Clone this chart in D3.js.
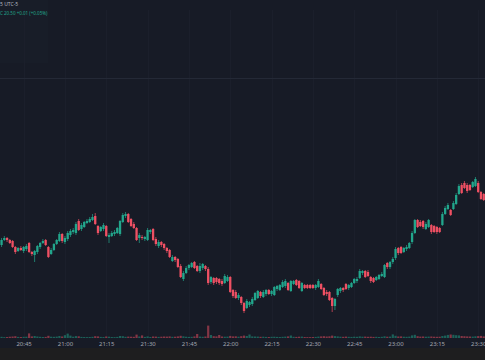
<!DOCTYPE html>
<html><head><meta charset="utf-8">
<script src="https://cdn.jsdelivr.net/npm/d3@7"></script>
<style>html,body{margin:0;padding:0;background:#171b26;overflow:hidden}</style>
</head><body><svg id="c" width="485" height="360"></svg>
<script>
// ---- data (1-minute candles starting 20:36) ----
const startTime = [20, 36];
const opens = [
20.04,20.05,20.10,20.12,20.10,20.09,20.03,19.99,20.02,19.99,
20.01,20.07,19.98,19.95,19.98,20.03,20.07,20.10,20.03,19.96,
20.00,20.06,20.09,20.16,20.08,20.11,20.15,20.18,20.17,20.29,
20.21,20.23,20.27,20.28,20.30,20.34,20.24,20.19,20.21,20.24,
20.13,20.14,20.16,20.17,20.16,20.28,20.34,20.36,20.31,20.26,
20.22,20.12,20.13,20.11,20.10,20.18,20.21,20.11,20.04,20.08,
20.06,20.02,20.00,19.89,19.93,19.91,19.84,19.71,19.77,19.82,
19.83,19.88,19.84,19.79,19.82,19.84,19.81,19.68,19.72,19.72,
19.71,19.69,19.67,19.69,19.73,19.60,19.58,19.52,19.53,19.47,
19.42,19.45,19.46,19.50,19.52,19.58,19.53,19.56,19.60,19.56,
19.55,19.61,19.60,19.63,19.64,19.67,19.59,19.66,19.70,19.69,
19.59,19.65,19.65,19.65,19.65,19.62,19.63,19.66,19.62,19.58,
19.58,19.52,19.44,19.55,19.59,19.62,19.66,19.62,19.63,19.67,
19.69,19.72,19.77,19.79,19.78,19.73,19.72,19.70,19.71,19.74,
19.73,19.87,19.83,19.88,19.92,20.02,20.03,19.98,20.01,20.02,
20.08,20.17,20.30,20.28,20.29,20.21,20.23,20.25,20.24,20.23,
20.22,20.25,20.36,20.41,20.40,20.41,20.46,20.56,20.65,20.67,
20.65,20.65,20.63,20.64,20.67,20.58,20.56];
const highs = [
20.11,20.12,20.14,20.13,20.11,20.10,20.04,20.03,20.04,20.04,
20.06,20.08,19.99,20.00,20.05,20.08,20.11,20.11,20.04,20.02,
20.07,20.11,20.18,20.17,20.14,20.19,20.21,20.22,20.28,20.31,
20.27,20.29,20.31,20.33,20.36,20.37,20.25,20.24,20.27,20.25,
20.17,20.19,20.20,20.23,20.30,20.37,20.38,20.37,20.32,20.28,
20.23,20.17,20.15,20.14,20.22,20.21,20.22,20.13,20.10,20.09,
20.07,20.03,20.01,19.95,19.94,19.92,19.86,19.79,19.84,19.86,
19.88,19.89,19.85,19.87,19.87,19.85,19.83,19.74,19.73,19.73,
19.72,19.71,19.76,19.75,19.74,19.61,19.60,19.57,19.54,19.48,
19.51,19.49,19.53,19.58,19.60,19.59,19.60,19.61,19.61,19.60,
19.64,19.65,19.66,19.70,19.71,19.68,19.70,19.70,19.71,19.70,
19.68,19.66,19.66,19.66,19.66,19.66,19.71,19.67,19.63,19.60,
19.59,19.53,19.52,19.62,19.63,19.63,19.67,19.66,19.68,19.72,
19.73,19.81,19.80,19.80,19.80,19.74,19.73,19.74,19.76,19.78,
19.86,19.88,19.89,19.93,20.03,20.03,20.04,20.03,20.05,20.08,
20.19,20.31,20.31,20.30,20.30,20.28,20.31,20.26,20.25,20.24,
20.23,20.38,20.44,20.47,20.41,20.49,20.57,20.66,20.67,20.69,
20.67,20.66,20.69,20.73,20.69,20.59,20.57];
const lows = [
20.02,20.03,20.09,20.08,20.06,20.02,19.96,19.98,19.99,19.97,
19.99,19.97,19.94,19.88,19.96,20.01,20.06,20.04,19.92,19.95,
19.99,20.05,20.08,20.07,20.06,20.09,20.13,20.16,20.15,20.19,
20.19,20.22,20.26,20.27,20.29,20.25,20.15,20.18,20.19,20.13,
20.07,20.13,20.14,20.16,20.14,20.27,20.32,20.27,20.23,20.21,
20.09,20.07,20.10,20.09,20.09,20.16,20.09,20.04,20.02,20.03,
20.00,19.97,19.92,19.88,19.88,19.82,19.72,19.69,19.76,19.80,
19.82,19.81,19.78,19.77,19.80,19.79,19.65,19.66,19.65,19.66,
19.65,19.64,19.66,19.68,19.57,19.52,19.51,19.50,19.45,19.37,
19.41,19.43,19.44,19.49,19.51,19.52,19.52,19.54,19.55,19.54,
19.54,19.59,19.59,19.62,19.62,19.59,19.58,19.65,19.64,19.61,
19.58,19.61,19.61,19.61,19.61,19.60,19.62,19.60,19.54,19.54,
19.49,19.38,19.40,19.53,19.57,19.58,19.60,19.60,19.62,19.66,
19.67,19.71,19.75,19.72,19.73,19.67,19.67,19.69,19.70,19.73,
19.72,19.81,19.81,19.86,19.90,19.95,19.96,19.97,19.99,20.01,
20.06,20.16,20.22,20.23,20.21,20.20,20.22,20.16,20.17,20.16,
20.17,20.24,20.35,20.40,20.34,20.40,20.45,20.55,20.56,20.61,
20.57,20.59,20.62,20.63,20.57,20.50,20.49];
const closes = [
20.09,20.10,20.12,20.10,20.07,20.03,19.98,20.02,20.00,20.03,
20.04,19.98,19.96,19.99,20.04,20.07,20.09,20.05,19.93,20.00,
20.06,20.10,20.16,20.09,20.12,20.17,20.19,20.20,20.26,20.20,
20.25,20.28,20.29,20.31,20.33,20.26,20.17,20.23,20.25,20.14,
20.15,20.17,20.18,20.22,20.29,20.35,20.36,20.28,20.24,20.22,
20.10,20.15,20.12,20.13,20.20,20.20,20.10,20.06,20.08,20.05,
20.02,19.99,19.93,19.93,19.90,19.83,19.73,19.77,19.82,19.85,
19.87,19.82,19.79,19.84,19.86,19.81,19.67,19.73,19.67,19.68,
19.67,19.66,19.74,19.73,19.58,19.54,19.52,19.55,19.47,19.39,
19.49,19.48,19.51,19.57,19.59,19.54,19.58,19.60,19.56,19.59,
19.63,19.64,19.65,19.68,19.69,19.60,19.69,19.69,19.65,19.62,
19.67,19.62,19.62,19.62,19.62,19.65,19.69,19.61,19.55,19.56,
19.50,19.44,19.51,19.61,19.62,19.60,19.61,19.65,19.67,19.71,
19.71,19.79,19.79,19.73,19.74,19.69,19.68,19.73,19.75,19.76,
19.85,19.83,19.88,19.91,20.01,19.97,19.97,20.02,20.03,20.07,
20.17,20.30,20.23,20.24,20.23,20.26,20.30,20.18,20.18,20.18,
20.18,20.36,20.42,20.45,20.35,20.47,20.55,20.64,20.57,20.62,
20.59,20.60,20.68,20.71,20.58,20.51,20.50];
const volumes = [
1400,1200,900,1000,1300,1500,1800,1100,1000,1200,
1300,4600,1600,2000,1500,1200,1000,1100,2200,1300,
1200,1400,2000,1500,2800,4400,2400,1300,1900,1700,
1100,1000,900,1000,1200,1800,1600,1100,1000,1500,
1300,1000,900,1100,2000,1800,1200,1400,1300,1200,
3400,1500,2600,1100,1600,1000,1500,1400,1100,1300,
1500,1400,1600,1200,1300,1600,2200,1700,1300,1100,
1200,1600,4000,1400,1200,1500,12400,3000,1800,1600,
3000,1500,1300,1400,2100,1600,1700,1300,1800,2400,
2000,3500,1600,1500,1400,1200,1300,1100,1000,1200,
1300,1100,1000,1200,1400,1600,2500,1200,1100,1300,
1400,1000,900,900,1000,1100,1400,1600,1800,1500,
1700,2400,1900,1600,1300,1200,1400,1200,1100,1300,
1200,1600,1300,1400,1200,1300,1100,1200,1000,1200,
1700,1300,1400,3600,2200,1500,1600,1300,1200,1400,
2600,3200,1800,1400,1500,1300,1400,1500,1300,1200,
1300,2000,2400,3100,3500,3200,2800,2600,2000,1800,
1600,1500,1400,1700,1900,2100,1600];
const tickLabels = ["20:45","21:00","21:15","21:30","21:45","22:00","22:15","22:30","22:45","23:00","23:15","23:30"];
const headerTitle = "5 UTC-5";
const headerQuote = "C 20.50 +0.01 (+0.05%)";

// ---- chart ----
const W = 485, H = 360;
const UP = "#22a68c", DOWN = "#ef5063";
const day = (h, m) => new Date(2024, 0, 2, h, m);
const parseHM = s => { const [h, m] = s.split(":").map(Number); return day(h, m); };
const candles = opens.map((o, i) => ({
  t: day(startTime[0], startTime[1] + i), o, h: highs[i], l: lows[i], c: closes[i], v: volumes[i]
}));

const svg = d3.select("#c");
svg.append("rect").attr("width", W).attr("height", H).attr("fill", "#171b26");
svg.append("rect").attr("x", 0).attr("y", 0).attr("width", 48).attr("height", 63).attr("fill", "#181d28");
svg.append("rect").attr("x", 0).attr("y", 348).attr("width", W).attr("height", 12).attr("fill", "#1e1e1f");

const x = d3.scaleTime().domain([parseHM("20:45"), parseHM("23:30")]).range([23.6, 478.2]);
const y = d3.scaleLinear().domain([19.13, 22.40]).range([337, 10]);
const vy = d3.scaleLinear().domain([0, 12400]).range([338, 325.6]);

// grid
const grid = svg.append("g");
grid.selectAll("line.v").data(tickLabels).join("line")
  .attr("x1", d => Math.round(x(parseHM(d))) + 0.5).attr("x2", d => Math.round(x(parseHM(d))) + 0.5)
  .attr("y1", 10).attr("y2", 338).attr("stroke", "#1b1f2b").attr("stroke-width", 1);
grid.append("line").attr("x1", 0).attr("x2", W).attr("y1", Math.round(y(21.72)) + 0.5).attr("y2", Math.round(y(21.72)) + 0.5)
  .attr("stroke", "#242936").attr("stroke-width", 1);

// volume
svg.append("g").selectAll("rect").data(candles).join("rect")
  .attr("x", d => x(d.t) - 1.1).attr("width", 2.2)
  .attr("y", d => vy(d.v)).attr("height", d => vy(0) - vy(d.v))
  .attr("fill", d => d.c >= d.o ? UP : DOWN).attr("opacity", 0.5);

// candles
const cg = svg.append("g");
cg.selectAll("line").data(candles).join("line")
  .attr("x1", d => x(d.t)).attr("x2", d => x(d.t))
  .attr("y1", d => y(d.h)).attr("y2", d => y(d.l))
  .attr("stroke", d => d.c >= d.o ? UP : DOWN).attr("stroke-width", 0.7);
cg.selectAll("rect").data(candles).join("rect")
  .attr("x", d => x(d.t) - 1.15).attr("width", 2.3)
  .attr("y", d => y(Math.max(d.o, d.c)))
  .attr("height", d => Math.max(1, Math.abs(y(d.o) - y(d.c))))
  .attr("fill", d => d.c >= d.o ? UP : DOWN);

// time axis
const axis = d3.axisBottom(x).tickValues(tickLabels.map(parseHM)).tickFormat(d3.timeFormat("%H:%M")).tickSize(0);
const ag = svg.append("g").attr("transform", "translate(0,339.5)").call(axis);
ag.select(".domain").remove();
ag.selectAll("text").attr("fill", "#a3a6af").attr("font-size", "6px").attr("font-family", "Noto Sans, sans-serif").attr("dy", "0.6em");

// header
svg.append("text").attr("x", 0).attr("y", 6).attr("fill", "#b4b7c0").attr("font-size", "5px")
  .attr("font-family", "Noto Sans, sans-serif").text(headerTitle);
svg.append("text").attr("x", 0).attr("y", 15).attr("fill", "#22a68c").attr("font-size", "4.5px")
  .attr("font-family", "Noto Sans, sans-serif").text(headerQuote);
</script></body></html>
